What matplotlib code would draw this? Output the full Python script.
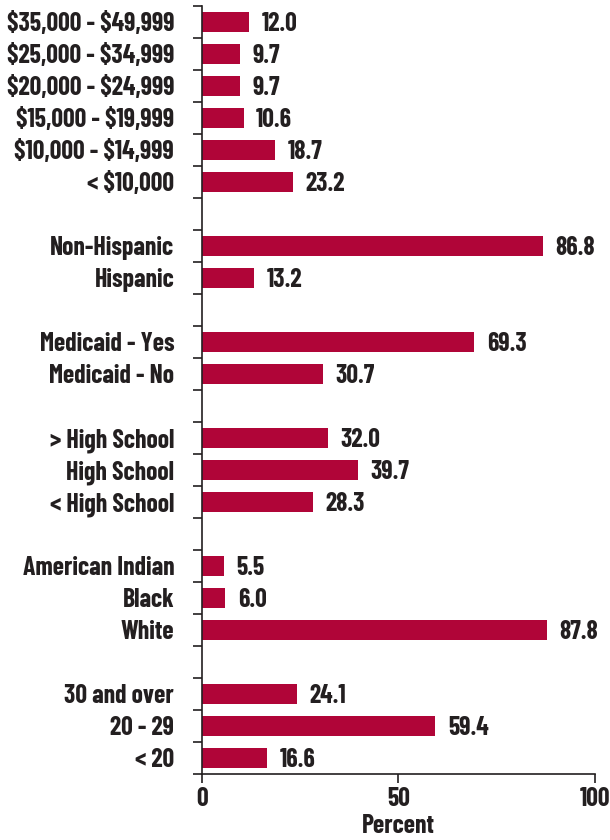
import matplotlib
matplotlib.use("Agg")
import matplotlib.pyplot as plt
import numpy as np

# categories top to bottom; None marks a blank spacer slot between groups
labels = [
    "$35,000 - $49,999", "$25,000 - $34,999", "$20,000 - $24,999",
    "$15,000 - $19,999", "$10,000 - $14,999", "< $10,000", None,
    "Non-Hispanic", "Hispanic", None,
    "Medicaid - Yes", "Medicaid - No", None,
    "> High School", "High School", "< High School", None,
    "American Indian", "Black", "White", None,
    "30 and over", "20 - 29", "< 20",
]
values = [
    12.0, 9.7, 9.7, 10.6, 18.7, 23.2, None,
    86.8, 13.2, None,
    69.3, 30.7, None,
    32.0, 39.7, 28.3, None,
    5.5, 6.0, 87.8, None,
    24.1, 59.4, 16.6,
]
xticks = [0, 50, 100]

BAR = "#B00538"
INK = "#231F20"
FS = 18.5

plt.rcParams["font.family"] = ["Barlow Condensed", "DejaVu Sans"]
plt.rcParams["font.weight"] = "bold"
plt.rcParams["text.parse_math"] = False

fig = plt.figure(figsize=(6.1, 8.4), dpi=100)
ax = fig.add_axes([0.331, 0.0786, 0.644, 0.9143])

n = len(labels)
idx = [i for i, v in enumerate(values) if v is not None]
vals = [values[i] for i in idx]

ax.barh(idx, vals, height=0.62, color=BAR, zorder=2)

for i, v in zip(idx, vals):
    ax.annotate(f"{v:.1f}", (v, i), xytext=(9, -1.5), textcoords="offset points",
                va="center", ha="left", fontsize=FS, fontweight="bold", color=INK)

ax.set_ylim(n - 0.5, -0.5)
ax.set_xlim(0, 100)

# ticks at every slot boundary, labels at the slot centres
ax.set_yticks(np.arange(n + 1) - 0.5)
ax.set_yticklabels([])
ax.set_yticks(idx, minor=True)
ax.set_yticklabels([labels[i] for i in idx], minor=True)
ax.tick_params(axis="y", which="major", length=6.5, width=1.2, color=INK, direction="out")
ax.tick_params(axis="y", which="minor", length=0, pad=20, labelsize=FS, labelcolor=INK)

ax.set_xticks(xticks)
ax.tick_params(axis="x", length=6.5, width=1.2, color=INK, direction="out",
               labelsize=FS, labelcolor=INK, pad=3)
for t in ax.get_xticklabels() + ax.get_yticklabels(minor=True):
    t.set_fontweight("bold")

ax.set_xlabel("Percent", fontsize=FS, fontweight="bold", color=INK, labelpad=2)

for s in ["top", "right"]:
    ax.spines[s].set_visible(False)
for s in ["left", "bottom"]:
    ax.spines[s].set_color(INK)
    ax.spines[s].set_linewidth(1.2)

fig.savefig("out.png", dpi=100)
